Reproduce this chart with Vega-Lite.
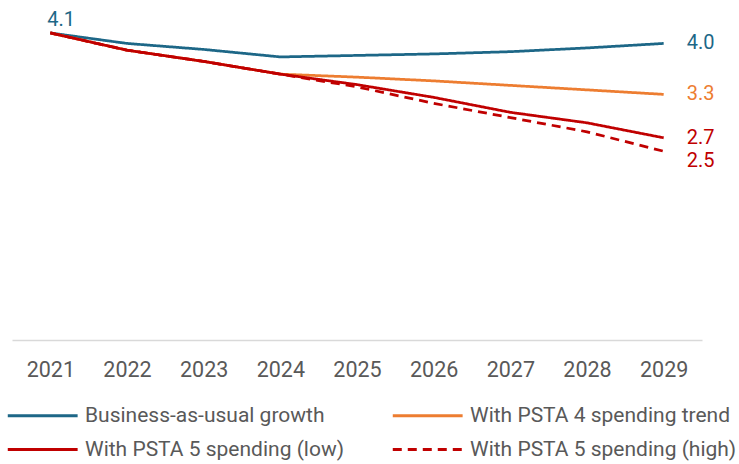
{
  "$schema": "https://vega.github.io/schema/vega-lite/v6.json",
  "width": 690,
  "height": 337,
  "autosize": {"type": "none"},
  "padding": {"left": 12, "top": 3, "right": 37, "bottom": 124},
  "config": {
    "view": {"stroke": null},
    "font": "Roboto"
  },
  "data": {
    "values": [
      {"year": "2021", "series": "Business-as-usual growth", "value": 4.1},
      {"year": "2022", "series": "Business-as-usual growth", "value": 3.96},
      {"year": "2023", "series": "Business-as-usual growth", "value": 3.88},
      {"year": "2024", "series": "Business-as-usual growth", "value": 3.78},
      {"year": "2025", "series": "Business-as-usual growth", "value": 3.8},
      {"year": "2026", "series": "Business-as-usual growth", "value": 3.82},
      {"year": "2027", "series": "Business-as-usual growth", "value": 3.85},
      {"year": "2028", "series": "Business-as-usual growth", "value": 3.9},
      {"year": "2029", "series": "Business-as-usual growth", "value": 3.96},
      {"year": "2021", "series": "With PSTA 4 spending trend", "value": 4.1},
      {"year": "2022", "series": "With PSTA 4 spending trend", "value": 3.87},
      {"year": "2023", "series": "With PSTA 4 spending trend", "value": 3.72},
      {"year": "2024", "series": "With PSTA 4 spending trend", "value": 3.55},
      {"year": "2025", "series": "With PSTA 4 spending trend", "value": 3.51},
      {"year": "2026", "series": "With PSTA 4 spending trend", "value": 3.46},
      {"year": "2027", "series": "With PSTA 4 spending trend", "value": 3.4},
      {"year": "2028", "series": "With PSTA 4 spending trend", "value": 3.34},
      {"year": "2029", "series": "With PSTA 4 spending trend", "value": 3.28},
      {"year": "2021", "series": "With PSTA 5 spending (low)", "value": 4.1},
      {"year": "2022", "series": "With PSTA 5 spending (low)", "value": 3.87},
      {"year": "2023", "series": "With PSTA 5 spending (low)", "value": 3.72},
      {"year": "2024", "series": "With PSTA 5 spending (low)", "value": 3.55},
      {"year": "2025", "series": "With PSTA 5 spending (low)", "value": 3.41},
      {"year": "2026", "series": "With PSTA 5 spending (low)", "value": 3.24},
      {"year": "2027", "series": "With PSTA 5 spending (low)", "value": 3.04},
      {"year": "2028", "series": "With PSTA 5 spending (low)", "value": 2.9},
      {"year": "2029", "series": "With PSTA 5 spending (low)", "value": 2.7},
      {"year": "2021", "series": "With PSTA 5 spending (high)", "value": 4.1},
      {"year": "2022", "series": "With PSTA 5 spending (high)", "value": 3.87},
      {"year": "2023", "series": "With PSTA 5 spending (high)", "value": 3.72},
      {"year": "2024", "series": "With PSTA 5 spending (high)", "value": 3.55},
      {"year": "2025", "series": "With PSTA 5 spending (high)", "value": 3.38},
      {"year": "2026", "series": "With PSTA 5 spending (high)", "value": 3.16},
      {"year": "2027", "series": "With PSTA 5 spending (high)", "value": 2.97},
      {"year": "2028", "series": "With PSTA 5 spending (high)", "value": 2.78},
      {"year": "2029", "series": "With PSTA 5 spending (high)", "value": 2.52}
    ]
  },
  "encoding": {
    "x": {
      "field": "year",
      "type": "ordinal",
      "scale": {"type": "point", "padding": 0.5},
      "axis": {
        "title": null,
        "labelAngle": 0,
        "labelFontSize": 21.5,
        "labelColor": "#595959",
        "labelPadding": 19,
        "ticks": false,
        "grid": false,
        "domainColor": "#D9D9D9",
        "domainWidth": 1.5
      }
    },
    "y": {
      "field": "value",
      "type": "quantitative",
      "scale": {"domain": [0, 4.5], "nice": false, "zero": true},
      "axis": null
    }
  },
  "layer": [
    {
      "mark": {"type": "line", "strokeWidth": 2.75},
      "encoding": {
        "color": {
          "field": "series",
          "type": "nominal",
          "scale": {
            "domain": ["Business-as-usual growth", "With PSTA 4 spending trend", "With PSTA 5 spending (low)", "With PSTA 5 spending (high)"],
            "range": ["#1D6787", "#ED7D31", "#C00000", "#C00000"]
          },
          "legend": {
            "title": null,
            "orient": "none",
            "direction": "horizontal",
            "legendX": -6,
            "legendY": 402,
            "columns": 2,
            "columnPadding": 41,
            "rowPadding": 12,
            "symbolType": "M-1,0H7",
            "symbolSize": 305,
            "symbolStrokeWidth": 3,
            "labelFontSize": 21,
            "labelColor": "#595959",
            "labelOffset": 58,
            "labelLimit": 400
          }
        },
        "strokeDash": {
          "field": "series",
          "type": "nominal",
          "scale": {
            "domain": ["Business-as-usual growth", "With PSTA 4 spending trend", "With PSTA 5 spending (low)", "With PSTA 5 spending (high)"],
            "range": [[1, 0], [1, 0], [1, 0], [9, 6]]
          }
        }
      }
    },
    {
      "transform": [
        {"filter": "datum.year == '2029' && datum.series != 'With PSTA 5 spending (high)'"}
      ],
      "mark": {"type": "text", "align": "left", "baseline": "middle", "dx": 23, "fontSize": 20},
      "encoding": {
        "text": {"field": "value", "type": "quantitative", "format": ".1f"},
        "fill": {
          "field": "series",
          "type": "nominal",
          "scale": {
            "domain": ["Business-as-usual growth", "With PSTA 4 spending trend", "With PSTA 5 spending (low)", "With PSTA 5 spending (high)"],
            "range": ["#1D6787", "#ED7D31", "#C00000", "#C00000"]
          },
          "legend": null
        }
      }
    },
    {
      "transform": [
        {"filter": "datum.year == '2029' && datum.series == 'With PSTA 5 spending (high)'"}
      ],
      "mark": {"type": "text", "align": "left", "baseline": "middle", "dx": 23, "dy": 10, "fontSize": 20, "color": "#C00000"},
      "encoding": {
        "text": {"field": "value", "type": "quantitative", "format": ".1f"}
      }
    },
    {
      "transform": [
        {"filter": "datum.year == '2021' && datum.series == 'Business-as-usual growth'"}
      ],
      "mark": {"type": "text", "align": "left", "baseline": "alphabetic", "dx": -3, "dy": -7, "fontSize": 20, "color": "#1D6787"},
      "encoding": {
        "text": {"field": "value", "type": "quantitative", "format": ".1f"}
      }
    }
  ]
}
